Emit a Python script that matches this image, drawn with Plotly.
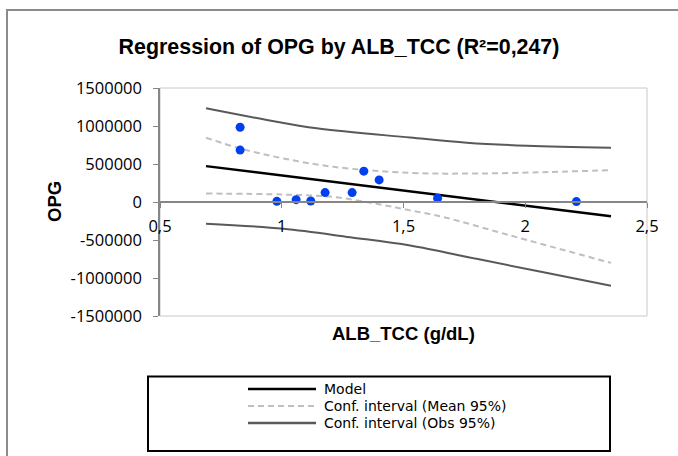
import plotly.graph_objects as go

# ---- data ----
obs_x = [0.829, 0.829, 0.980, 1.059, 1.119, 1.178, 1.289, 1.337, 1.400, 1.640, 2.210]
obs_y = [983000, 683000, 9000, 31000, 13000, 124000, 124000, 406000, 291000, 49000, 5000]

model_x = [0.689, 2.352]
model_y = [472000, -189000]

mean_up_x = [0.689, 0.829, 1.007, 1.212, 1.527, 1.800, 2.100, 2.352]
mean_up_y = [846000, 705000, 573000, 463000, 383000, 375000, 395000, 419000]
mean_lo_x = [0.689, 1.007, 1.212, 1.400, 1.527, 1.664, 1.938, 2.352]
mean_lo_y = [111000, 98000, 66000, -30000, -110000, -198000, -440000, -801000]

obsci_up_x = [0.689, 0.939, 1.144, 1.527, 1.760, 2.007, 2.352]
obsci_up_y = [1234000, 1080000, 970000, 848000, 780000, 740000, 714000]
obsci_lo_x = [0.689, 1.007, 1.281, 1.527, 1.800, 2.075, 2.352]
obsci_lo_y = [-286000, -352000, -463000, -572000, -748000, -925000, -1101000]

x_tickvals = [0.5, 1, 1.5, 2, 2.5]
x_ticktext = ["0,5", "1", "1,5", "2", "2,5"]
y_tickvals = [-1500000, -1000000, -500000, 0, 500000, 1000000, 1500000]
y_ticktext = ["-1500000", "-1000000", "-500000", "0", "500000", "1000000", "1500000"]

legend_names = ["Model", "Conf. interval (Mean 95%)", "Conf. interval (Obs 95%)"]

# ---- layout geometry (pixels) ----
W, H = 678, 456
L, R, T, B = 160, 647, 88, 316


def px(xp):
    return (xp - L) / (R - L)


def py(yp):
    return (B - yp) / (B - T)


BLACK = "#000000"
MEAN_C = "#bfbfbf"
OBS_C = "#595959"
AXIS_C = "#868686"
TICK_FONT = dict(family="Open Sans, Liberation Sans, Arial", size=16.5, color="#000000")

fig = go.Figure()

fig.add_trace(go.Scatter(x=obsci_up_x, y=obsci_up_y, mode="lines", line=dict(color=OBS_C, width=2, shape="spline"), showlegend=False))
fig.add_trace(go.Scatter(x=obsci_lo_x, y=obsci_lo_y, mode="lines", line=dict(color=OBS_C, width=2, shape="spline"), showlegend=False))
fig.add_trace(go.Scatter(x=mean_up_x, y=mean_up_y, mode="lines", line=dict(color=MEAN_C, width=2, dash="6px,4px", shape="spline"), showlegend=False))
fig.add_trace(go.Scatter(x=mean_lo_x, y=mean_lo_y, mode="lines", line=dict(color=MEAN_C, width=2, dash="6px,4px", shape="spline"), showlegend=False))
fig.add_trace(go.Scatter(x=model_x, y=model_y, mode="lines", line=dict(color=BLACK, width=2.5), showlegend=False))
fig.add_trace(go.Scatter(x=obs_x, y=obs_y, mode="markers", marker=dict(color="#0040f0", size=9), showlegend=False))

shapes = [
    # outer chart frame
    dict(type="rect", xref="paper", yref="paper", x0=px(7), x1=px(720), y0=py(10), y1=py(500),
         line=dict(color="#8c8c8c", width=2), layer="below"),
    # plot area border
    dict(type="rect", xref="paper", yref="paper", x0=0, x1=1, y0=0, y1=1,
         line=dict(color="#c8c8c8", width=1), layer="below"),
    # legend box
    dict(type="rect", xref="paper", yref="paper", x0=px(148), x1=px(610), y0=py(451), y1=py(376.5),
         line=dict(color=BLACK, width=2)),
]

leg_rows = [389, 406, 423]
leg_styles = [dict(color=BLACK, width=2.5), dict(color=MEAN_C, width=2, dash="6px,4px"), dict(color=OBS_C, width=2.5)]
annotations = []
for name, yy, st in zip(legend_names, leg_rows, leg_styles):
    shapes.append(dict(type="line", xref="paper", yref="paper", x0=px(248), x1=px(316), y0=py(yy), y1=py(yy), line=st))
    annotations.append(dict(text=name, xref="paper", yref="paper", x=px(322), y=py(yy), xanchor="left", yanchor="middle",
                            showarrow=False, font=dict(family="DejaVu Sans, Open Sans, Arial", size=14, color="#000000")))

annotations.append(dict(text="<b>ALB_TCC (g/dL)</b>", xref="paper", yref="paper", x=px(403.5), y=py(333), xanchor="center", yanchor="middle",
                        showarrow=False, font=dict(family="Liberation Sans, Arial", size=18.5, color="#000000")))
annotations.append(dict(text="<b>OPG</b>", xref="paper", yref="paper", x=px(54), y=py(202), xanchor="center", yanchor="middle",
                        textangle=-90, showarrow=False, font=dict(family="Liberation Sans, Arial", size=18.5, color="#000000")))

fig.update_layout(
    width=W, height=H,
    margin=dict(l=L, r=W - R, t=T, b=H - B),
    paper_bgcolor="#ffffff", plot_bgcolor="#ffffff",
    title=dict(text="<b>Regression of OPG by ALB_TCC (R²=0,247)</b>", x=0.5, xref="container", xanchor="center",
               y=1 - 47 / H, yref="container", yanchor="middle",
               font=dict(family="Liberation Sans, Arial", size=21.4, color="#000000")),
    xaxis=dict(range=[0.5, 2.5], tickvals=x_tickvals, ticktext=x_ticktext, anchor="free", position=0.5,
               showline=True, linecolor=AXIS_C, linewidth=1.5, ticks="outside", ticklen=5, tickcolor=AXIS_C,
               showgrid=False, zeroline=False, tickfont=TICK_FONT, ticklabelstandoff=4),
    yaxis=dict(range=[-1500000, 1500000], tickvals=y_tickvals, ticktext=y_ticktext,
               showline=True, linecolor=AXIS_C, linewidth=1.5, ticks="outside", ticklen=5, tickcolor=AXIS_C,
               showgrid=False, zeroline=False, tickfont=TICK_FONT, ticklabelstandoff=8),
    shapes=shapes, annotations=annotations, showlegend=False,
)

fig.write_html("out.html")
